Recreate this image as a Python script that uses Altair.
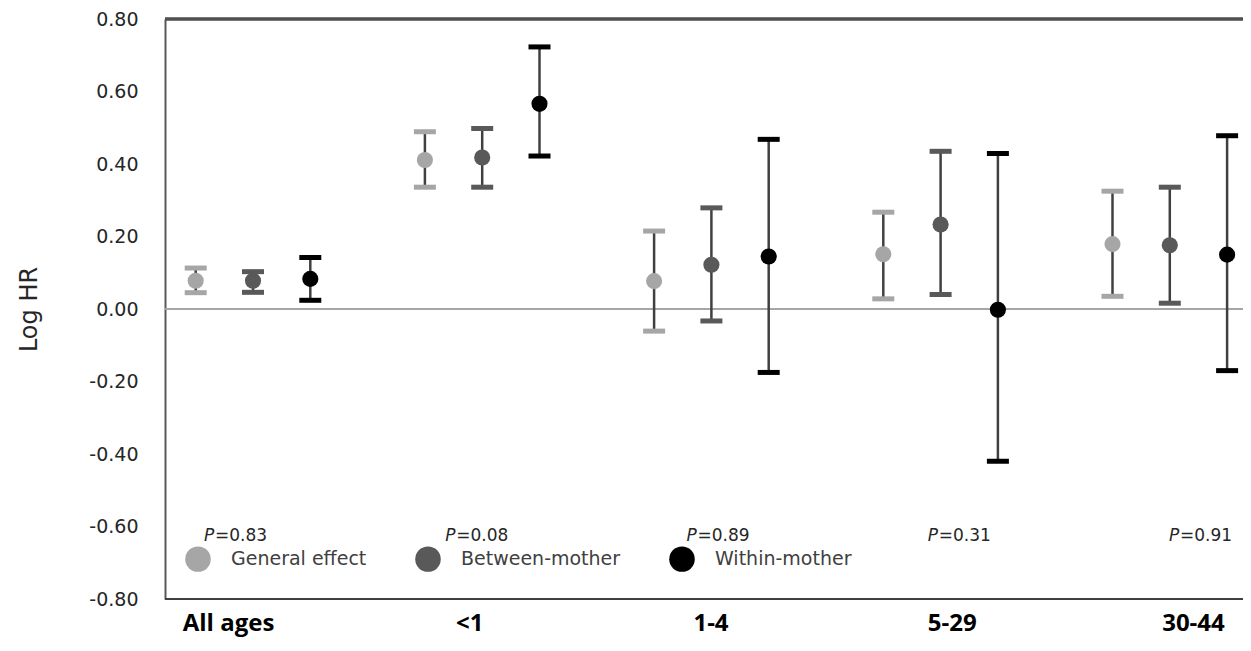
import altair as alt
import pandas as pd

# ---------------- data ----------------
groups = ["All ages", "<1", "1-4", "5-29", "30-44"]
series = ["General effect", "Between-mother", "Within-mother"]

general_est = [0.078, 0.411, 0.077, 0.151, 0.179]
general_lo = [0.045, 0.336, -0.061, 0.028, 0.035]
general_hi = [0.113, 0.489, 0.215, 0.267, 0.325]

between_est = [0.078, 0.418, 0.122, 0.233, 0.176]
between_lo = [0.046, 0.336, -0.033, 0.040, 0.016]
between_hi = [0.103, 0.498, 0.279, 0.435, 0.336]

within_est = [0.083, 0.566, 0.145, -0.002, 0.150]
within_lo = [0.024, 0.422, -0.175, -0.420, -0.170]
within_hi = [0.142, 0.723, 0.468, 0.429, 0.478]

p_values = ["0.83", "0.08", "0.89", "0.31", "0.91"]
y_ticks = [-0.8, -0.6, -0.4, -0.2, 0.0, 0.2, 0.4, 0.6, 0.8]

rows = []
for s, est, lo, hi in zip(series,
                          [general_est, between_est, within_est],
                          [general_lo, between_lo, within_lo],
                          [general_hi, between_hi, within_hi]):
    for g, e, l, h in zip(groups, est, lo, hi):
        rows.append({"group": g, "series": s, "est": e, "lo": l, "hi": h})
df = pd.DataFrame(rows)
pdf = pd.DataFrame({"group": groups,
                    "plab": ["P"] * len(groups),
                    "pval": ["=" + v for v in p_values]})

# ---------------- layout / style ----------------
W, H = 1078, 580
FONT = "DejaVu Sans"
colors = ["#a6a6a6", "#595959", "#000000"]

yscale = alt.Scale(domain=[-0.8, 0.8], nice=False, zero=False)
yaxis = alt.Axis(values=y_ticks,
                 labelExpr="datum.value < -0.001 ? '-' + format(-datum.value, '.2f') : format(abs(datum.value), '.2f')",
                 title="Log HR",
                 titleFont=FONT, titleFontSize=24, titleFontWeight="normal",
                 titleColor="#262626", titlePadding=47,
                 labelFont=FONT, labelFontSize=19, labelColor="#262626",
                 labelPadding=27, labelFlush=False, labelOverlap=False,
                 ticks=False, grid=False, domainColor="#595959", domainWidth=2)

xscale = alt.Scale(domain=groups, range=[-26.6, 1119.4],
                   paddingInner=0, paddingOuter=0)
xoff_scale = alt.Scale(domain=series, paddingInner=0, paddingOuter=0.5)
lab_scale = alt.Scale(domain=groups, range=[-57.6, 1148.6],
                      paddingInner=0, paddingOuter=0)
cscale = alt.Scale(domain=series, range=colors)

X = alt.X("group:N", scale=xscale, axis=None, sort=groups)
XO = alt.XOffset("series:N", scale=xoff_scale, sort=series)

legend = alt.Legend(title=None, orient="none", legendX=20, legendY=527,
                    direction="horizontal", symbolType="circle",
                    symbolSize=650, symbolStrokeWidth=0,
                    symbolOpacity=1,
                    labelFont=FONT, labelFontSize=19, labelColor="#404040",
                    labelOffset=20, columnPadding=48, padding=0)
C = alt.Color("series:N", scale=cscale, legend=legend, sort=series)

base = alt.Chart(df)

zero_line = alt.Chart(pdf).mark_rule(color="#a6a6a6", strokeWidth=1.5).encode(
    y=alt.YDatum(0, scale=yscale, axis=yaxis)
)
top_line = alt.Chart(pdf).mark_rule(color="#505050", strokeWidth=2.5).encode(
    y=alt.value(0)
)
bottom_line = alt.Chart(pdf).mark_rule(color="#404040", strokeWidth=2).encode(
    y=alt.value(H)
)

whiskers = base.mark_rule(color="#404040", strokeWidth=2.5).encode(
    x=X, xOffset=XO,
    y=alt.Y("lo:Q", scale=yscale, axis=yaxis),
    y2="hi:Q",
)
caps_lo = base.mark_tick(thickness=5, size=22, opacity=1).encode(
    x=X, xOffset=XO,
    y=alt.Y("lo:Q", scale=yscale, axis=yaxis),
    color=C,
)
caps_hi = base.mark_tick(thickness=5, size=22, opacity=1).encode(
    x=X, xOffset=XO,
    y=alt.Y("hi:Q", scale=yscale, axis=yaxis),
    color=C,
)
points = base.mark_point(filled=True, size=260, opacity=1).encode(
    x=X, xOffset=XO,
    y=alt.Y("est:Q", scale=yscale, axis=yaxis),
    color=C,
)

xlab_axis = alt.Axis(orient="bottom", title=None, domain=False, ticks=False,
                     labelFont="Open Sans", labelFontWeight="bold",
                     labelFontSize=24, labelColor="#000000", labelPadding=12,
                     labelAngle=0)

p_italic = alt.Chart(pdf).mark_text(
    align="left", baseline="middle", font=FONT, fontSize=17,
    fontStyle="italic", color="#262626", dx=-24
).encode(
    x=alt.X("group:N", scale=lab_scale, axis=xlab_axis, sort=groups),
    y=alt.value(517),
    text="plab:N",
)
p_rest = alt.Chart(pdf).mark_text(
    align="left", baseline="middle", font=FONT, fontSize=17,
    color="#262626", dx=-13
).encode(
    x=alt.X("group:N", scale=lab_scale, axis=None, sort=groups),
    y=alt.value(517),
    text="pval:N",
)

chart = alt.layer(
    zero_line, top_line, bottom_line, whiskers, caps_lo, caps_hi, points,
    p_italic, p_rest
).resolve_scale(
    x="independent"
).properties(
    width=W, height=H,
    autosize=alt.AutoSizeParams(type="none"),
    padding={"left": 157, "top": 11, "right": 0, "bottom": 40},
).configure_view(
    stroke=None
).configure(
    background="white"
)

chart.save("out.html", embed_options={"renderer": "svg", "actions": False})
